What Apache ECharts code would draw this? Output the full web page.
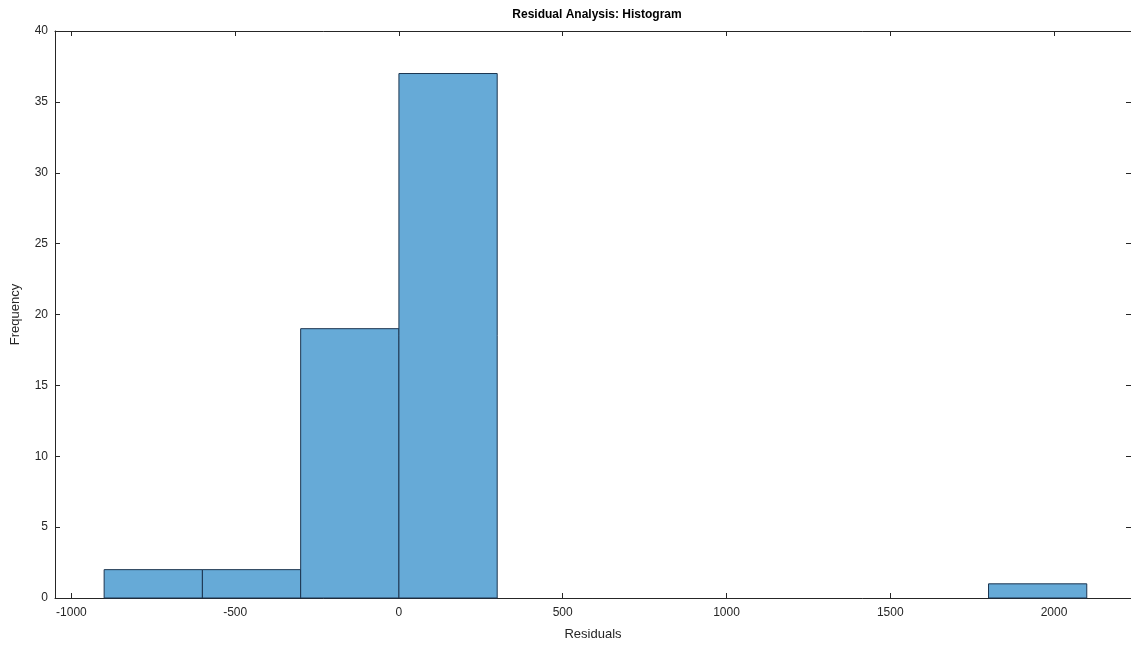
<!DOCTYPE html>
<html>
<head>
    <meta charset="utf-8">
    <title>Residual Analysis: Histogram</title>
    <script src="https://cdn.jsdelivr.net/npm/echarts@6/dist/echarts.min.js"></script>
    <style>
        html, body { margin: 0; padding: 0; background: #fff; }
        #chart { width: 1131px; height: 646px; }
    </style>
</head>
<body>
<div id="chart"></div>
<script>
    // histogram bins (edges) and counts
    var binEdges = [-900, -600, -300, 0, 300, 600, 900, 1200, 1500, 1800, 2100]
    var counts = [2, 2, 19, 37, 0, 0, 0, 0, 0, 1]
    var xTicks = [-1000, -500, 0, 500, 1000, 1500, 2000]
    var yTicks = [0, 5, 10, 15, 20, 25, 30, 35, 40]

    var bins = []
    for (let i = 0; i < counts.length; i++) {
        if (counts[i] > 0) {
            bins.push([binEdges[i], binEdges[i + 1], counts[i]])
        }
    }

    var axisColor = '#262626'
    var fontFamily = 'Liberation Sans, Arial, sans-serif'

    var myChart = echarts.init(document.getElementById('chart'))

    function xAxisCfg(pos, showLabel) {
        return {
            type: 'value',
            position: pos,
            min: -1050,
            max: 2235,
            axisLine: {show: true, onZero: false, lineStyle: {color: axisColor, width: 1}},
            axisTick: {show: true, inside: true, length: 5, customValues: xTicks, lineStyle: {color: axisColor}},
            axisLabel: {
                show: showLabel, customValues: xTicks, color: axisColor, fontSize: 12,
                fontFamily: fontFamily, margin: 9,
                formatter: function (v) { return String(v) }
            },
            splitLine: {show: false}
        }
    }

    function yAxisCfg(pos, showLabel, showLine) {
        return {
            type: 'value',
            position: pos,
            min: 0,
            max: 40,
            axisLine: {show: showLine, onZero: false, lineStyle: {color: axisColor, width: 1}},
            axisTick: {show: true, inside: true, length: 5, customValues: yTicks, lineStyle: {color: axisColor}},
            axisLabel: {show: showLabel, customValues: yTicks, color: axisColor, fontSize: 12, fontFamily: fontFamily, margin: 7},
            splitLine: {show: false}
        }
    }

    var xBottom = xAxisCfg('bottom', true)
    xBottom.name = 'Residuals'
    xBottom.nameLocation = 'middle'
    xBottom.nameGap = 30
    xBottom.nameTextStyle = {color: axisColor, fontSize: 13, fontFamily: fontFamily}

    var yLeft = yAxisCfg('left', true, true)
    yLeft.name = 'Frequency'
    yLeft.nameLocation = 'middle'
    yLeft.nameGap = 33
    yLeft.nameTextStyle = {color: axisColor, fontSize: 13, fontFamily: fontFamily}

    myChart.setOption({
        animation: false,
        title: {
            text: 'Residual Analysis: Histogram',
            left: 592,
            textAlign: 'center',
            top: 4,
            textStyle: {color: '#000', fontSize: 12, fontWeight: 'bold', fontFamily: fontFamily}
        },
        grid: {left: 55, right: 0, top: 31, bottom: 48},
        xAxis: [xBottom, xAxisCfg('top', false)],
        yAxis: [yLeft, yAxisCfg('right', false, false)],
        series: [{
            type: 'custom',
            xAxisIndex: 0,
            yAxisIndex: 0,
            data: bins,
            renderItem: function (params, api) {
                var p0 = api.coord([api.value(0), api.value(2)])
                var p1 = api.coord([api.value(1), 0])
                return {
                    type: 'rect',
                    shape: {x: p0[0], y: p0[1], width: p1[0] - p0[0], height: p1[1] - p0[1]},
                    style: {fill: '#66aad7', stroke: '#1c3550', lineWidth: 1}
                }
            }
        }]
    })
</script>
</body>
</html>
